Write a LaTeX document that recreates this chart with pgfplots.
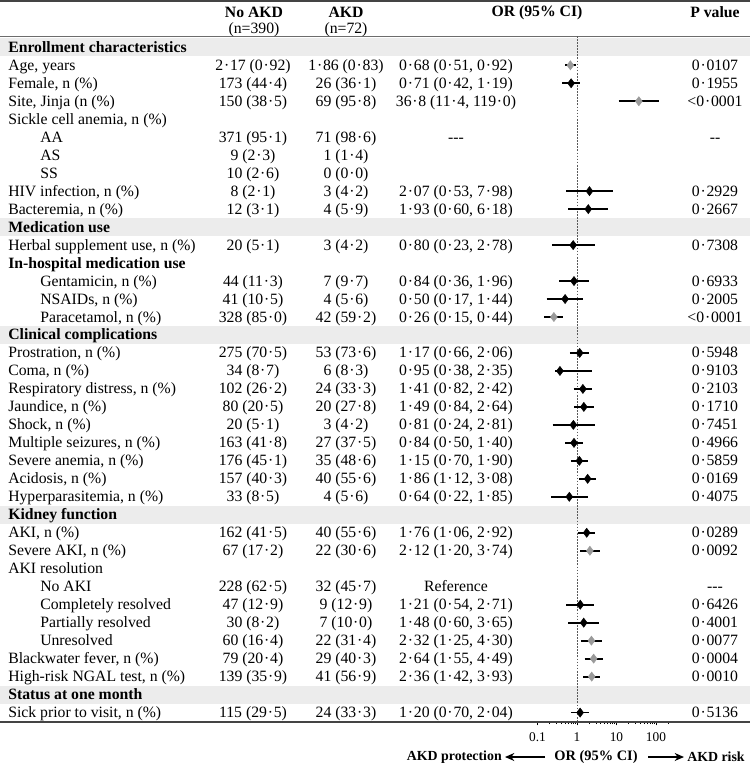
\documentclass[border=0pt]{standalone}
\usepackage{pgfplots}
\pgfplotsset{compat=1.18}
\usepackage{pgfplotstable}
\usepackage{fontspec}
\setmainfont{Liberation Serif}
\usetikzlibrary{arrows.meta}
\definecolor{band}{HTML}{ECECEC}
\definecolor{sig}{HTML}{9A9A9A}
\definecolor{rulec}{HTML}{444444}
\catcode`\·=\active
\def·{\kern.05em\char"B7\kern.05em}

% confidence intervals: lower / upper bound, row index (nan = break)
\pgfplotstableread{
x y
0.51 1
0.92 1
nan nan
0.42 2
1.19 2
nan nan
11.4 3
119.0 3
nan nan
0.53 8
7.98 8
nan nan
0.60 9
6.18 9
nan nan
0.23 11
2.78 11
nan nan
0.36 13
1.96 13
nan nan
0.17 14
1.44 14
nan nan
0.15 15
0.44 15
nan nan
0.66 17
2.06 17
nan nan
0.28 18
2.35 18
nan nan
0.82 19
2.42 19
nan nan
0.84 20
2.64 20
nan nan
0.24 21
2.81 21
nan nan
0.50 22
1.40 22
nan nan
0.70 23
1.90 23
nan nan
1.12 24
3.08 24
nan nan
0.22 25
1.85 25
nan nan
1.06 27
2.92 27
nan nan
1.20 28
3.74 28
nan nan
0.54 31
2.71 31
nan nan
0.60 32
3.65 32
nan nan
1.25 33
4.30 33
nan nan
1.55 34
4.49 34
nan nan
1.42 35
3.93 35
nan nan
0.70 37
2.04 37
}\citable

\pgfplotstableread{
or row
0.71 2
2.07 8
1.93 9
0.80 11
0.84 13
0.50 14
1.17 17
0.37 18
1.41 19
1.49 20
0.81 21
0.84 22
1.15 23
1.86 24
0.64 25
1.76 27
1.21 31
1.48 32
1.20 37
}\blackpts

\pgfplotstableread{
or row
0.68 1
36.8 3
0.26 15
2.12 28
2.32 33
2.64 34
2.36 35
}\graypts

\newcommand\bodyf{\fontsize{11.8}{13}\selectfont}
\newcommand\RowT[6]{%
  \pgfmathsetmacro\yb{52.3+17.98*#1}%
  \node[anchor=base west,inner sep=0pt] at (#2,\yb) {\bodyf #3};%
  \node[anchor=base,inner sep=0pt] at (253,\yb) {\bodyf #4};%
  \node[anchor=base,inner sep=0pt] at (346,\yb) {\bodyf #5};%
  \node[anchor=base,inner sep=0pt] at (456,\yb) {\bodyf #6};%
}
\newcommand\PVal[2]{%
  \pgfmathsetmacro\yb{52.3+17.98*#1}%
  \node[anchor=base,inner sep=0pt] at (715,\yb) {\bodyf #2};%
}
\newcommand\Band[1]{%
  \pgfmathsetmacro\yt{47.3+17.98*#1-9}%
  \pgfmathsetmacro\ybb{47.3+17.98*#1+9}%
  \fill[band] (0,\yt) rectangle (750,\ybb);%
}
\newcommand\Head[2]{%
  \pgfmathsetmacro\yb{52.3+17.98*#1}%
  \node[anchor=base west,inner sep=0pt] at (8,\yb) {\bodyf\bfseries #2};%
}

\begin{document}
\begin{tikzpicture}[x=0.75pt,y=-0.75pt]
\useasboundingbox (0,0) rectangle (750,765);
% bands
\Band{0}\Band{10}\Band{16}\Band{26}\Band{36}
% rules
\draw[rulec,line width=1.3pt] (0,1) -- (750,1);
\draw[gray!85!black,line width=1.2pt] (0,36.5) -- (750,36.5);
% header
\node[inner sep=0pt] at (254,12.5) {\bodyf\bfseries No AKD};
\node[inner sep=0pt] at (254,30) {\bodyf (n=390)};
\node[inner sep=0pt] at (346,12.5) {\bodyf\bfseries AKD};
\node[inner sep=0pt] at (346,30) {\bodyf (n=72)};
\node[inner sep=0pt] at (537,12.5) {\bodyf\bfseries OR (95\% CI)};
\node[inner sep=0pt] at (715,12.5) {\bodyf\bfseries P value};
% section headings
\Head{0}{Enrollment characteristics}
\Head{10}{Medication use}
\Head{12}{In-hospital medication use}
\Head{16}{Clinical complications}
\Head{26}{Kidney function}
\Head{36}{Status at one month}
% rows
\RowT{1}{8}{Age, years}{2·17 (0·92)}{1·86 (0·83)}{0·68 (0·51, 0·92)}\PVal{1}{0·0107}
\RowT{2}{8}{Female, n (\%)}{173 (44·4)}{26 (36·1)}{0·71 (0·42, 1·19)}\PVal{2}{0·1955}
\RowT{3}{8}{Site, Jinja (n (\%)}{150 (38·5)}{69 (95·8)}{36·8 (11·4, 119·0)}\PVal{3}{<0·0001}
\RowT{4}{8}{Sickle cell anemia, n (\%)}{}{}{}
\RowT{5}{40}{AA}{371 (95·1)}{71 (98·6)}{-{}-{}-}\PVal{5}{-{}-}
\RowT{6}{40}{AS}{9 (2·3)}{1 (1·4)}{}
\RowT{7}{40}{SS}{10 (2·6)}{0 (0·0)}{}
\RowT{8}{8}{HIV infection, n (\%)}{8 (2·1)}{3 (4·2)}{2·07 (0·53, 7·98)}\PVal{8}{0·2929}
\RowT{9}{8}{Bacteremia, n (\%)}{12 (3·1)}{4 (5·9)}{1·93 (0·60, 6·18)}\PVal{9}{0·2667}
\RowT{11}{8}{Herbal supplement use, n (\%)}{20 (5·1)}{3 (4·2)}{0·80 (0·23, 2·78)}\PVal{11}{0·7308}
\RowT{13}{40}{Gentamicin, n (\%)}{44 (11·3)}{7 (9·7)}{0·84 (0·36, 1·96)}\PVal{13}{0·6933}
\RowT{14}{40}{NSAIDs, n (\%)}{41 (10·5)}{4 (5·6)}{0·50 (0·17, 1·44)}\PVal{14}{0·2005}
\RowT{15}{40}{Paracetamol, n (\%)}{328 (85·0)}{42 (59·2)}{0·26 (0·15, 0·44)}\PVal{15}{<0·0001}
\RowT{17}{8}{Prostration, n (\%)}{275 (70·5)}{53 (73·6)}{1·17 (0·66, 2·06)}\PVal{17}{0·5948}
\RowT{18}{8}{Coma, n (\%)}{34 (8·7)}{6 (8·3)}{0·95 (0·38, 2·35)}\PVal{18}{0·9103}
\RowT{19}{8}{Respiratory distress, n (\%)}{102 (26·2)}{24 (33·3)}{1·41 (0·82, 2·42)}\PVal{19}{0·2103}
\RowT{20}{8}{Jaundice, n (\%)}{80 (20·5)}{20 (27·8)}{1·49 (0·84, 2·64)}\PVal{20}{0·1710}
\RowT{21}{8}{Shock, n (\%)}{20 (5·1)}{3 (4·2)}{0·81 (0·24, 2·81)}\PVal{21}{0·7451}
\RowT{22}{8}{Multiple seizures, n (\%)}{163 (41·8)}{27 (37·5)}{0·84 (0·50, 1·40)}\PVal{22}{0·4966}
\RowT{23}{8}{Severe anemia, n (\%)}{176 (45·1)}{35 (48·6)}{1·15 (0·70, 1·90)}\PVal{23}{0·5859}
\RowT{24}{8}{Acidosis, n (\%)}{157 (40·3)}{40 (55·6)}{1·86 (1·12, 3·08)}\PVal{24}{0·0169}
\RowT{25}{8}{Hyperparasitemia, n (\%)}{33 (8·5)}{4 (5·6)}{0·64 (0·22, 1·85)}\PVal{25}{0·4075}
\RowT{27}{8}{AKI, n (\%)}{162 (41·5)}{40 (55·6)}{1·76 (1·06, 2·92)}\PVal{27}{0·0289}
\RowT{28}{8}{Severe AKI, n (\%)}{67 (17·2)}{22 (30·6)}{2·12 (1·20, 3·74)}\PVal{28}{0·0092}
\RowT{29}{8}{AKI resolution}{}{}{}
\RowT{30}{40}{No AKI}{228 (62·5)}{32 (45·7)}{Reference}\PVal{30}{-{}-{}-}
\RowT{31}{40}{Completely resolved}{47 (12·9)}{9 (12·9)}{1·21 (0·54, 2·71)}\PVal{31}{0·6426}
\RowT{32}{40}{Partially resolved}{30 (8·2)}{7 (10·0)}{1·48 (0·60, 3·65)}\PVal{32}{0·4001}
\RowT{33}{40}{Unresolved}{60 (16·4)}{22 (31·4)}{2·32 (1·25, 4·30)}\PVal{33}{0·0077}
\RowT{34}{8}{Blackwater fever, n (\%)}{79 (20·4)}{29 (40·3)}{2·64 (1·55, 4·49)}\PVal{34}{0·0004}
\RowT{35}{8}{High-risk NGAL test, n (\%)}{139 (35·9)}{41 (56·9)}{2·36 (1·42, 3·93)}\PVal{35}{0·0010}
\RowT{37}{8}{Sick prior to visit, n (\%)}{115 (29·5)}{24 (33·3)}{1·20 (0·70, 2·04)}\PVal{37}{0·5136}

\begin{axis}[
  at={(403.125pt,-541.5pt)}, anchor=south west,
  scale only axis, width=100.65pt, height=514.5pt,
  xmode=log, xmin=0.1, xmax=250,
  ymin=-0.628, ymax=37.525, y dir=reverse,
  axis x line*=bottom, axis y line=none,
  x axis line style={draw=none},
  xtick={0.1,1,10,100}, xticklabels={0.1,1,10,100},
  minor xtick={0.2,0.3,0.4,0.5,0.6,0.7,0.8,0.9,2,3,4,5,6,7,8,9,20,30,40,50,60,70,80,90,200},
  tick align=outside, major tick length=2.5pt, minor tick length=1.5pt,
  tick style={black,line width=0.5pt},
  xticklabel style={font=\fontsize{10}{12}\selectfont, inner sep=0pt, yshift=-5.5pt},
  clip=false, unbounded coords=jump,
]
\addplot[gray!70!black, line width=0.6pt, dash pattern=on 1.3pt off 1pt] coordinates {(1,-0.628) (1,37.525)};
\addplot[black, line width=1.35pt] table[x=x,y=y] {\citable};
\addplot[only marks, mark=diamond*, mark size=3.4pt, mark options={fill=black,draw=black}] table[x=or,y=row] {\blackpts};
\addplot[only marks, mark=diamond*, mark size=3.4pt, mark options={fill=sig,draw=sig}] table[x=or,y=row] {\graypts};
\end{axis}
% bottom rule
\draw[rulec,line width=1pt] (0,722) -- (750,722);
% bottom labels
\node[anchor=east,inner sep=0pt] at (502,757) {\fontsize{10.4}{12}\selectfont\bfseries AKD protection};
\node[inner sep=0pt] at (596,757) {\fontsize{10.8}{12}\selectfont\bfseries OR (95\% CI)};
\node[anchor=west,inner sep=0pt] at (687,757) {\fontsize{10.4}{12}\selectfont\bfseries AKD risk};
\draw[line width=0.9pt,-{Stealth[length=7pt,width=6pt]}] (545,757) -- (505,757);
\draw[line width=0.9pt,-{Stealth[length=7pt,width=6pt]}] (648,757) -- (684,757);
\end{tikzpicture}
\end{document}
